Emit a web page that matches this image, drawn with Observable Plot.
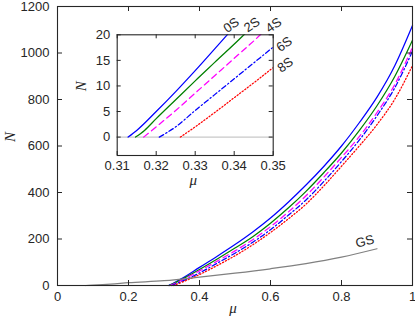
<!DOCTYPE html>
<html><head><meta charset="utf-8">
<script src="https://cdn.jsdelivr.net/npm/d3@7"></script>
<script src="https://cdn.jsdelivr.net/npm/@observablehq/plot@0.6"></script>
<style>
html,body{margin:0;padding:0;background:#fff;}
#wrap{position:relative;width:415px;height:323px;overflow:hidden;}
#wrap svg{position:absolute;}
</style></head><body><div id="wrap"></div>
<script>
// ---- data ----
const seriesNames = ["0S", "2S", "4S", "6S", "8S"];
const mu0S = [0.3128, 0.315, 0.32, 0.325, 0.33, 0.3382, 0.35, 0.4, 0.45, 0.5, 0.55, 0.6, 0.65, 0.7, 0.75, 0.8, 0.85, 0.9, 0.95, 1.0];
const N0S  = [0, 1.3, 5.0, 8.9, 13.0, 20, 30, 78, 126, 176, 230, 290, 358, 432, 512, 600, 700, 810, 945, 1118];
const mu2S = [0.3147, 0.317, 0.32, 0.325, 0.33, 0.335, 0.3425, 0.35, 0.4, 0.45, 0.5, 0.55, 0.6, 0.65, 0.7, 0.75, 0.8, 0.85, 0.9, 0.95, 1.0];
const N2S  = [0, 1.3, 3.6, 7.3, 11.0, 14.6, 20, 26, 69, 114, 161, 210, 268, 333, 405, 485, 570, 666, 773, 899, 1055];
const mu4S = [0.3168, 0.32, 0.325, 0.33, 0.335, 0.34, 0.3467, 0.35, 0.4, 0.45, 0.5, 0.55, 0.6, 0.65, 0.7, 0.75, 0.8, 0.85, 0.9, 0.95, 1.0];
const N4S  = [0, 2.0, 5.2, 8.6, 12.0, 15.4, 20, 22.5, 63, 105, 149, 197, 253, 316, 386, 466, 551, 640, 744, 864, 1025];
const mu6S = [0.3208, 0.325, 0.33, 0.335, 0.34, 0.345, 0.35, 0.4, 0.45, 0.5, 0.55, 0.6, 0.65, 0.7, 0.75, 0.8, 0.85, 0.9, 0.95, 1.0];
const N6S  = [0, 2.0, 5.2, 8.3, 11.4, 14.5, 17.6, 54, 96, 139, 186, 240, 302, 368, 447, 533, 625, 730, 850, 1008];
const mu8S = [0.3262, 0.33, 0.335, 0.34, 0.345, 0.35, 0.4, 0.45, 0.5, 0.55, 0.6, 0.65, 0.7, 0.75, 0.8, 0.85, 0.9, 0.95, 1.0];
const N8S  = [0, 2.0, 4.8, 7.7, 10.6, 13.6, 47, 86, 128, 175, 228, 286, 350, 428, 513, 600, 692, 801, 946];
const muGS = [0.08, 0.1, 0.15, 0.2, 0.3, 0.4, 0.5, 0.6, 0.7, 0.8, 0.9];
const NGS  = [0, 1.5, 6, 12, 21, 36, 53, 72, 94, 122, 158];

const mainXTicks = [0, 0.2, 0.4, 0.6, 0.8, 1];
const mainYTicks = [0, 200, 400, 600, 800, 1000, 1200];
const insetXTicks = [0.31, 0.32, 0.33, 0.34, 0.35];
const insetYTicks = [0, 5, 10, 15, 20];

// where each curve leaves the inset box (label anchors)
const labelMu = [0.3382, 0.3425, 0.3467, 0.35, 0.35];
const labelN  = [20, 20, 20, 17.6, 13.6];

// ---- build tables ----
const muArr = [mu0S, mu2S, mu4S, mu6S, mu8S];
const NArr = [N0S, N2S, N4S, N6S, N8S];
const rows = seriesNames.flatMap((s, i) => muArr[i].map((m, j) => ({s, mu: m, N: NArr[i][j]})));
const gsRows = muGS.map((m, j) => ({mu: m, N: NGS[j]}));

const colors = {"0S": "#0000ff", "2S": "#008000", "4S": "#ff00ff", "6S": "#0000ff", "8S": "#ff0000"};
const dashes = {"0S": null, "2S": null, "4S": "6,4", "6S": "5,2.5,1.3,2.5", "8S": "1.2,2"};
const labelOffsets = {"0S": [-2.4, -5], "2S": [1.5, -5.4], "4S": [6.8, -5], "6S": [4.6, 1.7], "8S": [5.6, 2]};

const axisColor = "#262626";
const font = "'Liberation Sans', Arial, sans-serif";
const serif = "'Liberation Serif', 'Times New Roman', serif";

function seriesLines(clip) {
  return seriesNames.map(s => Plot.line(rows.filter(d => d.s === s), {
    x: "mu", y: "N", stroke: colors[s], strokeDasharray: dashes[s],
    strokeWidth: 1.25, curve: "monotone-x", clip
  }));
}

function boxTicks(xt, yt, fw, fh, len) {
  return [
    Plot.tickX(xt, {x: d => d, insetTop: fh - len, stroke: axisColor}),
    Plot.tickX(xt, {x: d => d, insetBottom: fh - len, stroke: axisColor}),
    Plot.tickY(yt, {y: d => d, insetRight: fw - len, stroke: axisColor}),
    Plot.tickY(yt, {y: d => d, insetLeft: fw - len, stroke: axisColor})
  ];
}

// ---- main chart ----
const W = 415, H = 323, mT = 6, mR = 3, mB = 38, mL = 57;
const main = Plot.plot({
  width: W, height: H, marginTop: mT, marginRight: mR, marginBottom: mB, marginLeft: mL,
  x: {domain: [0, 1]}, y: {domain: [0, 1200]},
  style: {fontFamily: font, fontSize: "13px", color: axisColor, background: "transparent", overflow: "visible"},
  marks: [
    ...seriesLines(false),
    Plot.line(gsRows, {x: "mu", y: "N", stroke: "#808080", strokeWidth: 1.25, curve: "monotone-x"}),
    Plot.text([gsRows[gsRows.length - 1]], {x: "mu", y: "N", text: () => "GS", textAnchor: "end", dx: -3, dy: -9.6, rotate: -14, fontSize: 13}),
    Plot.axisX(mainXTicks, {tickSize: 0, tickPadding: 6, tickFormat: d => String(d), label: null, fontSize: 13}),
    Plot.axisY(mainYTicks, {tickSize: 0, tickPadding: 8, tickFormat: d => String(d), label: null, fontSize: 13}),
    ...boxTicks(mainXTicks, mainYTicks, W - mL - mR, H - mT - mB, 5),
    Plot.frame({stroke: axisColor, strokeWidth: 1.1}),
    Plot.text(["N"], {frameAnchor: "left", dx: -47, dy: -4, rotate: -90, fontFamily: serif, fontStyle: "italic", fontSize: 15}),
    Plot.text(["μ"], {frameAnchor: "bottom", dy: 27, dx: -2, fontFamily: serif, fontStyle: "italic", fontSize: 15})
  ]
});
main.style.left = "0px"; main.style.top = "0px";

// ---- inset ----
const iW = 240, iH = 170, iT = 14.3, iR = 27.3, iB = 35, iL = 56.7;
const inset = Plot.plot({
  width: iW, height: iH, marginTop: iT, marginRight: iR, marginBottom: iB, marginLeft: iL,
  x: {domain: [0.31, 0.35]}, y: {domain: [-3.6, 20]},
  style: {fontFamily: font, fontSize: "13px", color: axisColor, background: "transparent", overflow: "visible"},
  marks: [
    Plot.frame({fill: "white", stroke: null}),
    Plot.ruleY([0], {stroke: "#c8c8c8", strokeWidth: 1.2}),
    ...seriesLines(true),
    ...seriesNames.map((s, i) => Plot.text([{mu: labelMu[i], N: labelN[i]}], {
      x: "mu", y: "N", text: () => s, textAnchor: "start",
      dx: labelOffsets[s][0], dy: labelOffsets[s][1], rotate: -35, fontSize: 13
    })),
    Plot.axisX(insetXTicks, {tickSize: 0, tickPadding: 5, tickFormat: d => d.toFixed(2), label: null, fontSize: 13}),
    Plot.axisY(insetYTicks, {tickSize: 0, tickPadding: 7, tickFormat: d => String(d), label: null, fontSize: 13}),
    ...boxTicks(insetXTicks, insetYTicks, iW - iL - iR, iH - iT - iB, 4),
    Plot.frame({stroke: axisColor, strokeWidth: 1.1}),
    Plot.text(["N"], {frameAnchor: "left", dx: -36, dy: -4, rotate: -90, fontFamily: serif, fontStyle: "italic", fontSize: 15}),
    Plot.text(["μ"], {frameAnchor: "bottom", dy: 29, dx: -2, fontFamily: serif, fontStyle: "italic", fontSize: 15})
  ]
});
inset.style.left = "60px"; inset.style.top = "20px";

const wrap = document.getElementById("wrap");
wrap.appendChild(main);
wrap.appendChild(inset);
</script>
</body></html>
